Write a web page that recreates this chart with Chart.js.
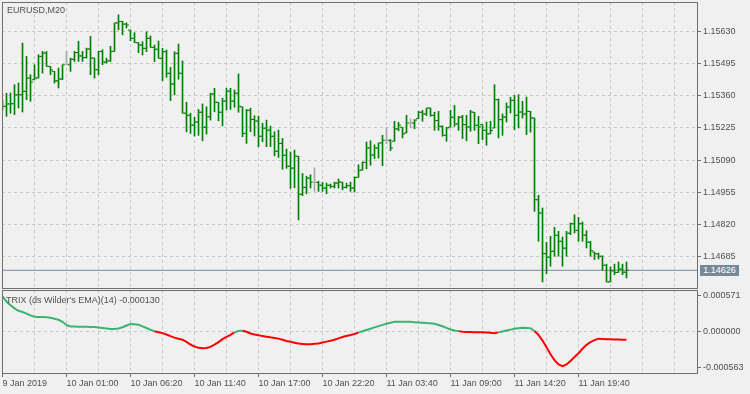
<!DOCTYPE html>
<html>
<head>
<meta charset="utf-8">
<script src="https://cdn.jsdelivr.net/npm/chart.js@4.4.1/dist/chart.umd.min.js"></script>
<style>
html,body{margin:0;padding:0;background:#f0f0f0;width:750px;height:394px;overflow:hidden;}
#wrap{position:relative;width:750px;height:394px;}
canvas{position:absolute;left:0;}
#main{top:0;}
#ind{top:288px;}
.lbl{position:absolute;font-family:"Liberation Sans",Arial,sans-serif;font-size:9px;line-height:12px;color:#505050;white-space:nowrap;}
#title{left:7px;top:3.5px;}
#trixLbl{left:6px;top:294px;}
#priceBox{position:absolute;left:700px;width:39px;height:11px;background:#778899;color:#ffffff;font-family:"Liberation Sans",Arial,sans-serif;font-size:9px;line-height:11px;text-align:center;}
</style>
</head>
<body>
<div id="wrap">
  <canvas id="main" width="750" height="289"></canvas>
  <canvas id="ind" width="750" height="106"></canvas>
  <div id="title" class="lbl">EURUSD,M20</div>
  <div id="trixLbl" class="lbl"></div>
  <div id="priceBox"></div>
</div>
<script>
// ---- data (EURUSD M20, 157 bars) ----
const timeLabels = ['9 Jan 2019','10 Jan 01:00','10 Jan 06:20','10 Jan 11:40','10 Jan 17:00','10 Jan 22:20','11 Jan 03:40','11 Jan 09:00','11 Jan 14:20','11 Jan 19:40'];
const priceTicks = [1.15630,1.15495,1.15360,1.15225,1.15090,1.14955,1.14820,1.14685];
const trixTicks = [0.000571,0,-0.000563];

const opens = [
1.15309,1.15316,1.15326,1.15327,1.15364,1.15365,1.15379,1.15435,1.15428,1.15435,
1.15526,1.15540,1.15484,1.15463,1.15423,1.15431,1.15491,1.15491,1.15514,1.15542,
1.15528,1.15521,1.15557,1.15519,1.15470,1.15547,1.15502,1.15507,1.15547,1.15667,
1.15673,1.15662,1.15637,1.15602,1.15584,1.15574,1.15560,1.15602,1.15564,1.15556,
1.15518,1.15546,1.15455,1.15410,1.15539,1.15455,1.15287,1.15278,1.15237,1.15250,
1.15291,1.15228,1.15272,1.15368,1.15333,1.15291,1.15338,1.15380,1.15338,1.15371,
1.15314,1.15202,1.15299,1.15261,1.15254,1.15190,1.15224,1.15216,1.15190,1.15127,
1.15160,1.15110,1.15064,1.15056,1.15106,1.14946,1.14975,1.15014,1.14996,1.14996,
1.14984,1.14972,1.14984,1.14979,1.14993,1.14997,1.14975,1.14982,1.14972,1.15017,
1.15047,1.15080,1.15141,1.15111,1.15141,1.15162,1.15173,1.15173,1.15169,1.15221,
1.15228,1.15204,1.15246,1.15246,1.15264,1.15291,1.15284,1.15309,1.15278,1.15256,
1.15232,1.15194,1.15228,1.15270,1.15242,1.15270,1.15239,1.15229,1.15291,1.15236,
1.15239,1.15215,1.15200,1.15225,1.15344,1.15260,1.15271,1.15313,1.15341,1.15278,
1.15292,1.15284,1.15295,1.15267,1.14923,1.14867,1.14696,1.14681,1.14706,1.14773,
1.14748,1.14719,1.14782,1.14822,1.14794,1.14822,1.14774,1.14744,1.14703,1.14695,
1.14685,1.14647,1.14577,1.14624,1.14617,1.14631,1.14618];
const highs = [
1.15343,1.15371,1.15372,1.15407,1.15414,1.15582,1.15526,1.15449,1.15491,1.15533,
1.15547,1.15547,1.15484,1.15463,1.15477,1.15491,1.15547,1.15519,1.15547,1.15590,
1.15547,1.15561,1.15611,1.15519,1.15547,1.15554,1.15519,1.15569,1.15667,1.15701,
1.15674,1.15667,1.15637,1.15626,1.15584,1.15588,1.15630,1.15612,1.15574,1.15591,
1.15560,1.15553,1.15480,1.15546,1.15578,1.15507,1.15333,1.15287,1.15270,1.15303,
1.15326,1.15314,1.15371,1.15392,1.15333,1.15350,1.15392,1.15392,1.15385,1.15452,
1.15314,1.15303,1.15308,1.15276,1.15275,1.15245,1.15258,1.15233,1.15209,1.15216,
1.15181,1.15136,1.15124,1.15132,1.15106,1.15034,1.15022,1.15028,1.15057,1.15001,
1.14996,1.14993,1.14989,1.14997,1.15010,1.14997,1.14993,1.14997,1.15019,1.15070,
1.15082,1.15166,1.15171,1.15154,1.15162,1.15194,1.15225,1.15176,1.15253,1.15249,
1.15228,1.15278,1.15264,1.15260,1.15295,1.15299,1.15309,1.15309,1.15291,1.15295,
1.15234,1.15228,1.15299,1.15320,1.15274,1.15278,1.15278,1.15299,1.15291,1.15274,
1.15239,1.15250,1.15253,1.15407,1.15347,1.15284,1.15330,1.15354,1.15362,1.15365,
1.15337,1.15355,1.15295,1.15267,1.14942,1.14888,1.14744,1.14769,1.14807,1.14790,
1.14766,1.14790,1.14825,1.14860,1.14849,1.14829,1.14793,1.14748,1.14703,1.14699,
1.14687,1.14652,1.14640,1.14652,1.14661,1.14652,1.14661];
const lows = [
1.15301,1.15274,1.15287,1.15281,1.15309,1.15292,1.15344,1.15337,1.15428,1.15435,
1.15456,1.15484,1.15449,1.15414,1.15393,1.15428,1.15491,1.15463,1.15505,1.15505,
1.15505,1.15519,1.15449,1.15435,1.15449,1.15491,1.15498,1.15505,1.15547,1.15638,
1.15617,1.15646,1.15592,1.15584,1.15542,1.15532,1.15546,1.15564,1.15504,1.15518,
1.15424,1.15438,1.15340,1.15364,1.15430,1.15287,1.15209,1.15202,1.15191,1.15194,
1.15171,1.15199,1.15258,1.15293,1.15255,1.15234,1.15301,1.15303,1.15312,1.15291,
1.15188,1.15160,1.15209,1.15191,1.15146,1.15167,1.15146,1.15146,1.15108,1.15101,
1.15051,1.15055,1.14971,1.14974,1.14838,1.14940,1.14948,1.14972,1.14958,1.14958,
1.14958,1.14948,1.14972,1.14972,1.14972,1.14965,1.14972,1.14958,1.14955,1.15017,
1.15047,1.15053,1.15068,1.15096,1.15098,1.15066,1.15159,1.15129,1.15169,1.15213,
1.15183,1.15204,1.15228,1.15222,1.15264,1.15253,1.15277,1.15274,1.15215,1.15215,
1.15190,1.15169,1.15228,1.15232,1.15215,1.15180,1.15171,1.15211,1.15215,1.15159,
1.15176,1.15152,1.15200,1.15225,1.15183,1.15194,1.15250,1.15288,1.15218,1.15225,
1.15267,1.15197,1.15207,1.14874,1.14748,1.14577,1.14612,1.14643,1.14685,1.14685,
1.14643,1.14685,1.14776,1.14783,1.14748,1.14748,1.14720,1.14685,1.14671,1.14674,
1.14626,1.14577,1.14577,1.14607,1.14617,1.14607,1.14594];
const closes = [
1.15316,1.15326,1.15327,1.15364,1.15365,1.15379,1.15435,1.15418,1.15435,1.15526,
1.15540,1.15484,1.15469,1.15423,1.15431,1.15491,1.15491,1.15514,1.15542,1.15528,
1.15521,1.15557,1.15519,1.15470,1.15547,1.15502,1.15507,1.15547,1.15667,1.15673,
1.15662,1.15658,1.15602,1.15584,1.15574,1.15560,1.15602,1.15564,1.15556,1.15518,
1.15546,1.15455,1.15410,1.15539,1.15455,1.15287,1.15278,1.15237,1.15250,1.15291,
1.15228,1.15272,1.15368,1.15333,1.15291,1.15338,1.15380,1.15338,1.15371,1.15316,
1.15202,1.15299,1.15261,1.15254,1.15190,1.15224,1.15216,1.15190,1.15127,1.15160,
1.15110,1.15064,1.15056,1.15106,1.14946,1.14975,1.15014,1.14996,1.14996,1.14984,
1.14972,1.14984,1.14979,1.14993,1.14997,1.14975,1.14982,1.14972,1.15017,1.15047,
1.15080,1.15141,1.15111,1.15141,1.15162,1.15173,1.15173,1.15141,1.15221,1.15237,
1.15200,1.15246,1.15246,1.15258,1.15291,1.15284,1.15309,1.15278,1.15256,1.15232,
1.15194,1.15225,1.15270,1.15242,1.15270,1.15239,1.15229,1.15292,1.15236,1.15229,
1.15215,1.15200,1.15215,1.15344,1.15260,1.15271,1.15313,1.15341,1.15278,1.15292,
1.15284,1.15295,1.15267,1.14923,1.14867,1.14696,1.14681,1.14706,1.14773,1.14748,
1.14719,1.14782,1.14822,1.14794,1.14822,1.14774,1.14744,1.14709,1.14695,1.14685,
1.14647,1.14577,1.14624,1.14617,1.14631,1.14618,1.14626];

// TRIX (ds Wilder's EMA)(14)
const trix = [
0.000560,0.000479,0.000420,0.000370,0.000332,0.000312,0.000286,0.000258,0.000237,0.000234,
0.000232,0.000227,0.000221,0.000205,0.000188,0.000156,0.000105,0.000083,0.000080,0.000078,
0.000078,0.000078,0.000075,0.000072,0.000065,0.000057,0.000049,0.000041,0.000041,0.000049,
0.000070,0.000097,0.000121,0.000119,0.000108,0.000084,0.000057,0.000029,0.000005,-0.000010,
-0.000024,-0.000045,-0.000072,-0.000095,-0.000113,-0.000129,-0.000164,-0.000205,-0.000237,-0.000258,
-0.000266,-0.000259,-0.000243,-0.000208,-0.000167,-0.000119,-0.000084,-0.000051,-0.000013,0.000011,
0.000013,-0.000003,-0.000029,-0.000045,-0.000059,-0.000068,-0.000080,-0.000091,-0.000100,-0.000111,
-0.000130,-0.000148,-0.000162,-0.000176,-0.000189,-0.000196,-0.000202,-0.000199,-0.000194,-0.000188,
-0.000173,-0.000159,-0.000145,-0.000129,-0.000108,-0.000086,-0.000068,-0.000054,-0.000038,-0.000016,
0.000005,0.000025,0.000046,0.000067,0.000087,0.000107,0.000126,0.000140,0.000156,0.000157,
0.000157,0.000157,0.000156,0.000151,0.000146,0.000142,0.000137,0.000134,0.000124,0.000105,
0.000086,0.000060,0.000035,0.000019,0.000008,-0.000002,-0.000005,-0.000006,-0.000008,-0.000008,
-0.000010,-0.000014,-0.000018,-0.000024,-0.000012,0.000002,0.000017,0.000032,0.000046,0.000054,
0.000062,0.000059,0.000054,0.000010,-0.000054,-0.000142,-0.000250,-0.000361,-0.000452,-0.000523,
-0.000550,-0.000522,-0.000467,-0.000404,-0.000345,-0.000273,-0.000210,-0.000165,-0.000135,-0.000112,
-0.000116,-0.000120,-0.000123,-0.000125,-0.000127,-0.000129,-0.000130];

// ---- styling ----
const GRID = '#c8c8c8', FRAME = '#6e6e6e', TXT = '#505050';
const BAR_UP = '#008000', BAR_DOJI = '#a8a8a8';
const TRIX_UP = '#3cb371', TRIX_DN = '#ff0000', LAST_LINE = '#778899';
const FONT = '"Liberation Sans", Arial, sans-serif';

const N = closes.length;
const idx = closes.map((_, i) => i);
const barColors = idx.map(i => opens[i] === closes[i] ? BAR_DOJI : BAR_UP);
const lastPrice = closes[N - 1];

// x axis: bar index, 4px per bar
const X_MIN = -0.125, X_MAX = X_MIN + 695 / 4;
const gridSteps = [];
for (let v = 0; v <= X_MAX; v += 8) gridSteps.push(v);
const labelAt = v => (v % 16 === 0 && v / 16 < timeLabels.length) ? timeLabels[v / 16] : '';

const tickPts = [], tickColors = [];
idx.forEach(i => {
  tickPts.push({x: i - 0.375, y: opens[i]}); tickColors.push(barColors[i]);
  tickPts.push({x: i + 0.375, y: closes[i]}); tickColors.push(barColors[i]);
});

const framePlugin = {
  id: 'frame',
  afterDraw(chart) {
    const {ctx, chartArea: a} = chart;
    ctx.save();
    ctx.strokeStyle = FRAME;
    ctx.lineWidth = 1;
    ctx.setLineDash([]);
    ctx.strokeRect(a.left + 0.5, a.top + 0.5, a.right - a.left, a.bottom - a.top);
    ctx.restore();
  }
};

const yAfterFit = s => { s.width = 53; s.paddingTop = 0; s.paddingBottom = 0; };

const mainChart = new Chart(document.getElementById('main'), {
  type: 'scatter',
  data: {
    datasets: [
      { type: 'scatter', data: tickPts, pointStyle: 'line', pointRadius: 1, pointBorderWidth: 1,
        pointBorderColor: tickColors, pointBackgroundColor: tickColors, order: 1 },
      { type: 'bar', data: idx.map(i => ({x: i, y: [lows[i], highs[i]]})), backgroundColor: barColors,
        borderWidth: 0, barThickness: 1, order: 2 },
      { type: 'line', data: [{x: X_MIN, y: lastPrice}, {x: X_MAX, y: lastPrice}], borderColor: LAST_LINE,
        borderWidth: 1, pointRadius: 0, order: 3 }
    ]
  },
  options: {
    responsive: false, animation: false, events: [], devicePixelRatio: 1,
    layout: {autoPadding: false, padding: {left: 2, top: 2, right: 0, bottom: 1}},
    plugins: {legend: {display: false}, tooltip: {enabled: false}},
    scales: {
      x: { type: 'linear', min: X_MIN, max: X_MAX, offset: false, bounds: 'data',
        grid: {color: GRID, drawTicks: false, offset: false},
        border: {display: false, dash: [3, 3]},
        ticks: {display: false},
        afterBuildTicks: s => { s.ticks = gridSteps.map(v => ({value: v})); },
        afterFit: s => { s.height = 0; s.paddingLeft = 0; s.paddingRight = 0; } },
      y: { type: 'linear', position: 'right', min: 1.145515, max: 1.157550, bounds: 'data',
        grid: {color: GRID, drawTicks: true, tickLength: 4, tickColor: FRAME, tickBorderDash: []},
        border: {display: false, dash: [3, 3]},
        ticks: {color: TXT, font: {family: FONT, size: 9}, padding: 2, autoSkip: false,
          callback: v => Number(v).toFixed(5)},
        afterBuildTicks: s => { s.ticks = priceTicks.map(v => ({value: v})); },
        afterFit: yAfterFit }
    }
  },
  plugins: [framePlugin]
});

const indChart = new Chart(document.getElementById('ind'), {
  type: 'line',
  data: {
    datasets: [{
      data: idx.map(i => ({x: i, y: trix[i]})), borderWidth: 2, pointRadius: 0, tension: 0,
      borderColor: TRIX_UP,
      segment: {borderColor: c => c.p1.parsed.y < 0 ? TRIX_DN : TRIX_UP}
    }]
  },
  options: {
    responsive: false, animation: false, events: [], devicePixelRatio: 1,
    layout: {autoPadding: false, padding: {left: 2, top: 2, right: 0, bottom: 0}},
    plugins: {legend: {display: false}, tooltip: {enabled: false}},
    scales: {
      x: { type: 'linear', min: X_MIN, max: X_MAX, offset: false, bounds: 'data',
        grid: {color: GRID, drawTicks: true, tickLength: 4, tickBorderDash: [],
          tickColor: c => (c.tick && labelAt(c.tick.value)) ? FRAME : 'rgba(0,0,0,0)'},
        border: {display: false, dash: [3, 3]},
        ticks: {color: TXT, font: {family: FONT, size: 9}, padding: 1, autoSkip: false, maxRotation: 0,
          minRotation: 0, align: 'start', callback: v => labelAt(v)},
        afterBuildTicks: s => { s.ticks = gridSteps.map(v => ({value: v})); },
        afterFit: s => { s.height = 21; s.paddingLeft = 0; s.paddingRight = 0; } },
      y: { type: 'linear', position: 'right', min: -0.000658, max: 0.000662, bounds: 'data',
        grid: {color: c => (c.tick && c.tick.value === 0) ? GRID : 'rgba(0,0,0,0)',
          drawTicks: true, tickLength: 4, tickColor: FRAME, tickBorderDash: []},
        border: {display: false, dash: [3, 3]},
        ticks: {color: TXT, font: {family: FONT, size: 9}, padding: 2, autoSkip: false,
          callback: v => Number(v).toFixed(6)},
        afterBuildTicks: s => { s.ticks = trixTicks.map(v => ({value: v})); },
        afterFit: yAfterFit }
    }
  },
  plugins: [framePlugin]
});

// text overlays
document.getElementById('trixLbl').textContent =
  "TRIX (ds Wilder's EMA)(14) " + trix[N - 1].toFixed(6);
const pb = document.getElementById('priceBox');
pb.textContent = lastPrice.toFixed(5);
pb.style.top = (mainChart.scales.y.getPixelForValue(lastPrice) - 5.3) + 'px';
</script>
</body>
</html>
